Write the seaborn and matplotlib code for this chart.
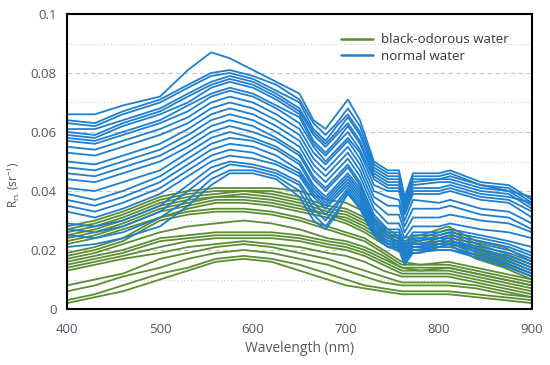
import numpy as np
import pandas as pd
import matplotlib
matplotlib.use("Agg")
import matplotlib.pyplot as plt
import seaborn as sns
from matplotlib.lines import Line2D
from matplotlib.ticker import MultipleLocator

# ---------------- data (Rrs values x 1000, sr^-1) ----------------
wl_normal = [400, 430, 460, 500, 530, 555, 575, 600, 625, 650, 665, 678, 690,
             702, 715, 730, 745, 757, 763, 772, 800, 812, 845, 875, 900]
normal_rrs_x1000 = [
    [66, 66, 69, 72, 81, 87, 85, 81, 77, 73, 64, 61, 66, 71, 64, 50, 47, 47, 38, 46, 46, 47, 43, 42, 37],
    [64, 63, 67, 71, 76, 80, 81, 79, 76, 71, 63, 59, 63, 68, 62, 49, 46, 46, 37, 45, 45, 46, 42, 41, 36],
    [63, 62, 66, 70, 75, 79, 80, 78, 74, 70, 61, 57, 62, 66, 60, 48, 45, 45, 36, 44, 44, 45, 42, 40, 35],
    [61, 61, 64, 68, 73, 77, 79, 77, 73, 68, 60, 56, 60, 65, 59, 47, 44, 44, 35, 43, 44, 44, 41, 40, 38],
    [60, 59, 63, 67, 72, 76, 78, 76, 72, 67, 59, 55, 59, 63, 57, 46, 43, 43, 35, 42, 43, 43, 40, 39, 34],
    [59, 58, 62, 66, 70, 75, 77, 75, 71, 66, 57, 53, 57, 62, 56, 45, 42, 42, 34, 41, 41, 42, 39, 38, 36],
    [58, 57, 60, 64, 69, 73, 75, 73, 69, 65, 56, 52, 56, 60, 54, 44, 41, 41, 33, 40, 40, 41, 38, 37, 33],
    [57, 56, 59, 63, 67, 72, 74, 72, 68, 63, 55, 50, 54, 58, 53, 42, 40, 40, 32, 39, 39, 40, 37, 36, 31],
    [55, 54, 57, 61, 65, 70, 72, 70, 66, 61, 53, 49, 53, 57, 51, 40, 38, 37, 30, 37, 36, 37, 34, 33, 29],
    [53, 52, 55, 59, 63, 68, 70, 68, 64, 59, 51, 47, 51, 55, 49, 38, 35, 35, 28, 34, 34, 35, 32, 31, 27],
    [50, 49, 52, 56, 61, 66, 68, 66, 62, 57, 49, 45, 49, 53, 47, 36, 32, 32, 26, 31, 31, 32, 30, 29, 26],
    [48, 47, 50, 54, 59, 64, 66, 64, 60, 55, 47, 43, 47, 51, 45, 34, 29, 29, 24, 28, 28, 29, 27, 26, 24],
    [46, 45, 48, 52, 57, 62, 64, 62, 58, 53, 45, 41, 45, 49, 43, 32, 27, 27, 22, 26, 26, 27, 25, 23, 21],
    [44, 43, 46, 50, 55, 60, 62, 60, 57, 52, 44, 40, 44, 48, 42, 31, 26, 26, 21, 25, 25, 26, 24, 22, 19],
    [41, 40, 43, 47, 53, 58, 60, 58, 55, 50, 42, 38, 42, 46, 41, 30, 25, 25, 20, 24, 24, 25, 23, 21, 18],
    [39, 37, 40, 45, 51, 56, 58, 57, 54, 49, 41, 37, 41, 45, 40, 29, 25, 24, 19, 23, 24, 24, 22, 20, 17],
    [37, 35, 38, 43, 49, 54, 56, 55, 52, 47, 40, 36, 40, 44, 39, 28, 24, 23, 18, 22, 23, 23, 21, 19, 16],
    [35, 33, 36, 41, 47, 52, 54, 53, 50, 46, 39, 35, 39, 43, 38, 27, 23, 23, 18, 22, 22, 23, 20, 18, 15],
    [33, 31, 34, 39, 45, 50, 52, 51, 49, 45, 38, 34, 38, 42, 37, 27, 23, 22, 17, 21, 22, 22, 20, 17, 14],
    [29, 28, 30, 35, 42, 48, 50, 49, 47, 43, 36, 32, 36, 41, 36, 26, 22, 22, 17, 21, 21, 22, 19, 16, 13],
    [27, 26, 28, 33, 40, 46, 49, 48, 46, 42, 34, 30, 35, 40, 35, 26, 22, 21, 16, 20, 21, 21, 18, 15, 12],
    [25, 24, 26, 31, 37, 44, 47, 47, 45, 40, 32, 28, 33, 39, 34, 25, 21, 21, 16, 20, 20, 20, 18, 15, 12],
    [21, 22, 24, 28, 35, 42, 46, 46, 44, 38, 30, 27, 32, 40, 34, 25, 21, 20, 15, 19, 20, 20, 17, 14, 11],
]

wl_black = [400, 430, 460, 500, 530, 560, 590, 620, 650, 680, 700, 720, 740,
            760, 780, 810, 840, 870, 900]
black_rrs_x1000 = [
    [28, 30, 33, 38, 40, 41, 41, 41, 40, 37, 36, 33, 28, 24, 25, 28, 23, 21, 16],
    [27, 29, 32, 37, 39, 40, 40, 40, 38, 35, 34, 31, 27, 23, 24, 27, 22, 19, 15],
    [26, 28, 31, 36, 38, 39, 40, 39, 37, 34, 33, 30, 26, 22, 23, 26, 21, 18, 14],
    [25, 27, 30, 35, 37, 38, 39, 38, 36, 33, 32, 29, 25, 22, 22, 25, 20, 17, 13],
    [24, 26, 29, 34, 36, 38, 38, 37, 35, 32, 31, 28, 24, 21, 21, 24, 19, 16, 12],
    [23, 25, 28, 33, 35, 37, 37, 36, 34, 32, 30, 27, 23, 20, 20, 23, 18, 15, 11],
    [22, 24, 27, 31, 34, 36, 36, 35, 33, 31, 29, 26, 22, 19, 19, 22, 17, 14, 10],
    [19, 21, 24, 31, 33, 34, 34, 33, 31, 28, 26, 24, 20, 16, 15, 16, 14, 12, 10],
    [18, 20, 23, 30, 32, 33, 33, 32, 30, 27, 25, 23, 19, 15, 15, 15, 13, 11, 9],
    [17, 19, 22, 26, 28, 29, 30, 29, 27, 24, 23, 21, 18, 14, 14, 14, 12, 10, 8],
    [16, 18, 20, 24, 25, 26, 26, 26, 25, 23, 22, 20, 17, 14, 13, 14, 12, 10, 8],
    [15, 17, 19, 23, 24, 25, 25, 25, 24, 22, 21, 19, 16, 13, 13, 13, 11, 9, 7],
    [14, 16, 18, 21, 23, 24, 24, 24, 23, 21, 20, 18, 15, 12, 12, 12, 10, 8, 6],
    [13, 15, 17, 19, 21, 22, 23, 22, 21, 19, 18, 16, 13, 11, 11, 11, 9, 7, 5],
    [8, 10, 12, 17, 19, 21, 22, 21, 19, 17, 15, 13, 11, 9, 9, 9, 8, 6, 4],
    [6, 8, 11, 14, 17, 19, 20, 19, 17, 15, 13, 11, 9, 8, 8, 8, 7, 5, 4],
    [3, 5, 8, 12, 14, 17, 18, 17, 15, 12, 10, 8, 7, 6, 6, 6, 5, 4, 3],
    [2, 4, 6, 10, 13, 16, 17, 16, 13, 10, 8, 7, 6, 5, 5, 5, 4, 3, 2],
]

labels = ["black-odorous water", "normal water"]
colors = ["#5b8e32", "#1f7fcf"]
y_ticks = [0, 0.02, 0.04, 0.06, 0.08, 0.1]
y_ticklabels = ["0", "0.02", "0.04", "0.06", "0.08", "0.1"]
x_ticks = [400, 500, 600, 700, 800, 900]

# ---------------- long table ----------------
rows = []
for i, curve in enumerate(black_rrs_x1000):
    for w, v in zip(wl_black, curve):
        rows.append(("b%02d" % i, labels[0], w, v / 1000.0))
for i, curve in enumerate(normal_rrs_x1000):
    for w, v in zip(wl_normal, curve):
        rows.append(("n%02d" % i, labels[1], w, v / 1000.0))
df = pd.DataFrame(rows, columns=["curve", "type", "wl", "rrs"])

# ---------------- plot ----------------
sns.set_style("white")
plt.rcParams["font.family"] = ["Open Sans", "DejaVu Sans"]
txt = "#555566"

fig = plt.figure(figsize=(5.5, 3.65), dpi=100)
ax = fig.add_axes([67/550, 56/365, 465/550, 295/365])

sns.lineplot(data=df, x="wl", y="rrs", hue="type", units="curve",
             estimator=None, palette=dict(zip(labels, colors)),
             hue_order=labels, linewidth=1.3, ax=ax, legend=False, sort=False)
for ln in ax.get_lines():
    ln.set_solid_joinstyle("round")

ax.set_xlim(400, 900)
ax.set_ylim(0, 0.1)
ax.set_xticks(x_ticks)
ax.set_yticks(y_ticks)
ax.set_yticklabels(y_ticklabels)
ax.xaxis.set_minor_locator(MultipleLocator(50))
ax.yaxis.set_minor_locator(MultipleLocator(0.01))

for y in [0.02, 0.04, 0.06, 0.08]:
    ax.axhline(y, color="#c8c8c8", lw=0.8, ls=(0, (4, 3)), zorder=0)
for y in [0.01, 0.03, 0.05, 0.07, 0.09]:
    ax.axhline(y, color="#d0d0d0", lw=0.8, ls=(0, (1, 2)), zorder=0)

ax.tick_params(axis="both", which="major", direction="inout", length=8,
               width=1.3, color="black", labelsize=9.5, labelcolor=txt)
ax.tick_params(axis="both", which="minor", direction="inout", length=4,
               width=1.0, color="black")
ax.tick_params(axis="x", which="major", pad=6)
for s in ax.spines.values():
    s.set_color("black")
    s.set_linewidth(1.5)

ax.set_xlabel("Wavelength (nm)", fontsize=10, color=txt, labelpad=4)
ax.set_ylabel(r"R$_{\mathregular{rs}}$ (sr$^{\mathregular{-1}}$)", fontsize=8.5,
              color=txt)
ax.yaxis.set_label_coords(-0.097, 0.42)

handles = [Line2D([0], [0], color=c, lw=1.8) for c in colors]
leg = ax.legend(handles, labels, loc="upper left", bbox_to_anchor=(0.578, 0.952),
                frameon=False, fontsize=9.5, handlelength=2.4, handletextpad=0.6,
                labelspacing=0.25, borderaxespad=0.0)
for t in leg.get_texts():
    t.set_color("#333340")

fig.savefig("out.png", dpi=100)
